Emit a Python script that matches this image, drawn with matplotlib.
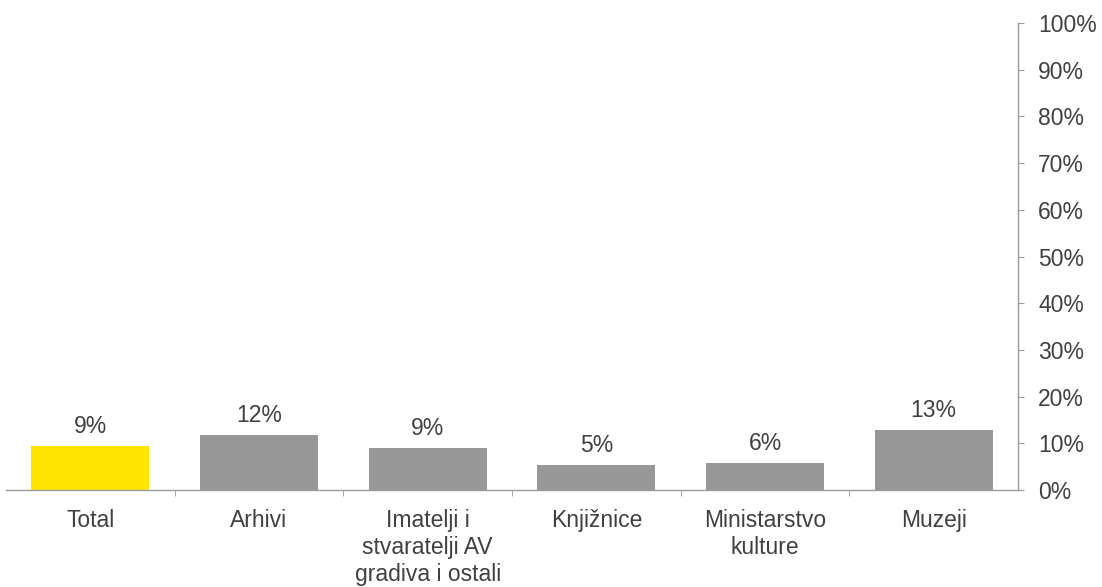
import matplotlib.pyplot as plt
import numpy as np

plt.rcParams['font.family'] = ['Liberation Sans', 'DejaVu Sans']

categories = ['Total', 'Arhivi', 'Imatelji i\nstvaratelji AV\ngradiva i ostali',
              'Knjižnice', 'Ministarstvo\nkulture', 'Muzeji']
values = [9.4, 11.7, 9.0, 5.3, 5.7, 12.8]
value_labels = ['9%', '12%', '9%', '5%', '6%', '13%']
bar_colors = ['#FFE600', '#979797', '#979797', '#979797', '#979797', '#979797']

text_color = '#404040'
axis_color = '#9a9a9a'
fs = 16.5

fig = plt.figure(figsize=(11.02, 5.87), dpi=100)
ax = fig.add_axes([6 / 1102, 1 - 490 / 587, (1018 - 6) / 1102, (490 - 23) / 587])

x = np.arange(len(categories))
ax.bar(x, values, width=0.70, color=bar_colors, zorder=2)

for xi, v, lab in zip(x, values, value_labels):
    ax.annotate(lab, (xi, v), xytext=(0, 6), textcoords='offset points',
                ha='center', va='bottom', fontsize=fs, color=text_color)

ax.set_xlim(-0.5, len(categories) - 0.5)
ax.set_ylim(0, 100)
ax.set_yticks(np.arange(0, 101, 10))
ax.set_yticklabels([f'{t}%' for t in range(0, 101, 10)])

ax.yaxis.tick_right()
ax.spines['left'].set_visible(False)
ax.spines['top'].set_visible(False)
ax.spines['right'].set_color(axis_color)
ax.spines['bottom'].set_color(axis_color)
ax.spines['right'].set_linewidth(1.0)
ax.spines['bottom'].set_linewidth(1.0)

ax.tick_params(axis='y', which='major', direction='out', length=4.5, color=axis_color,
               labelsize=fs, labelcolor=text_color, pad=10)

ax.set_xticks(x)
ax.set_xticklabels(categories, fontsize=fs, color=text_color, linespacing=1.22)
ax.set_xticks(np.arange(0.5, len(categories) - 1, 1.0), minor=True)
ax.tick_params(axis='x', which='major', length=0, pad=14)
ax.tick_params(axis='x', which='minor', direction='out', length=4.5, color=axis_color)

fig.savefig('out.png', dpi=100)
